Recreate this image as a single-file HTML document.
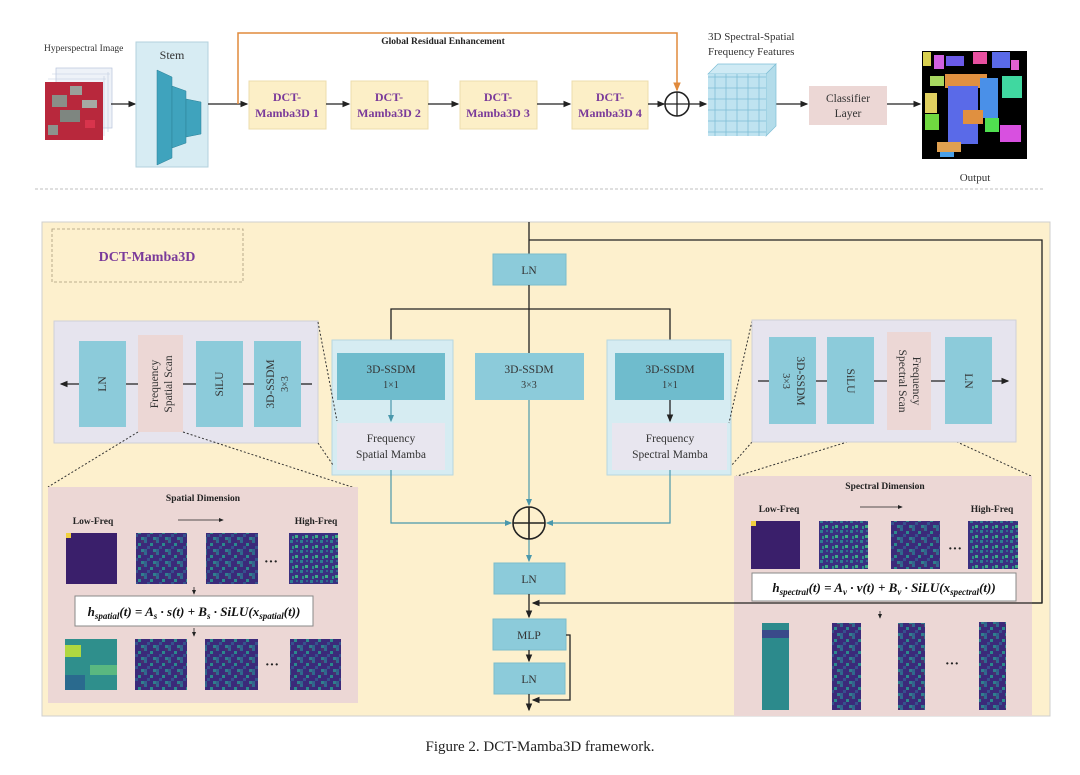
<!DOCTYPE html>
<html><head><meta charset="utf-8"><style>
html,body{margin:0;padding:0;background:#fff;}
svg{display:block;font-family:"Liberation Serif",serif;}
</style></head><body>
<svg width="1080" height="775" viewBox="0 0 1080 775" xmlns="http://www.w3.org/2000/svg">
<defs>
<marker id="ah" markerWidth="6" markerHeight="6" refX="5" refY="3" orient="auto"><path d="M0,0.5 L6,3 L0,5.5z" fill="#222"/></marker>
<marker id="aht" markerWidth="6" markerHeight="6" refX="5" refY="3" orient="auto"><path d="M0,0.5 L6,3 L0,5.5z" fill="#4a98ac"/></marker>
<marker id="aho" markerWidth="6" markerHeight="6" refX="5" refY="3" orient="auto"><path d="M0,0.5 L6,3 L0,5.5z" fill="#e08a3c"/></marker>
<pattern id="nz" width="12" height="12" patternUnits="userSpaceOnUse">
<rect width="12" height="12" fill="#3b2a7a"/>
<rect x="0" y="0" width="3" height="3" fill="#2f6a8e"/><rect x="6" y="3" width="3" height="3" fill="#2a8a8c"/>
<rect x="3" y="6" width="3" height="3" fill="#35528d"/><rect x="9" y="9" width="3" height="3" fill="#2f7f8e"/>
<rect x="9" y="0" width="3" height="3" fill="#46306f"/><rect x="0" y="9" width="3" height="3" fill="#33618c"/>
</pattern>
<pattern id="nz2" width="10" height="10" patternUnits="userSpaceOnUse">
<rect width="10" height="10" fill="#3a2f80"/>
<rect x="0" y="0" width="3" height="3" fill="#2c7f8e"/><rect x="5" y="5" width="3" height="3" fill="#3dae86"/>
<rect x="6" y="0" width="2" height="2" fill="#31688e"/><rect x="2" y="6" width="2" height="3" fill="#2a8d8a"/>
</pattern>
<pattern id="grid" width="11" height="11" patternUnits="userSpaceOnUse"><rect width="11" height="11" fill="#bfe3f0" stroke="#7fbfd6" stroke-width="0.8"/></pattern>
</defs>

<!-- TOP ROW -->
<text x="44" y="51" font-size="9.5" fill="#333">Hyperspectral Image</text>
<rect x="56" y="68" width="56" height="60" fill="#eef2f8" stroke="#b8c4dc" stroke-width="0.7"/>
<g stroke="#c0cbe0" stroke-width="0.6"><line x1="48" y1="79" x2="106" y2="79"/><line x1="52" y1="74" x2="110" y2="74"/><line x1="104" y1="76" x2="104" y2="136"/><line x1="108" y1="72" x2="108" y2="132"/></g>
<rect x="45" y="82" width="58" height="58" fill="#b8283c"/>
<rect x="52" y="95" width="15" height="12" fill="#8a8f88"/><rect x="70" y="86" width="12" height="9" fill="#9aa09a"/>
<rect x="60" y="110" width="20" height="12" fill="#7e8680"/><rect x="82" y="100" width="15" height="8" fill="#a5aaa4"/>
<rect x="48" y="125" width="10" height="10" fill="#8d938d"/><rect x="85" y="120" width="10" height="8" fill="#d8344c"/>
<line x1="111" y1="104" x2="135" y2="104" stroke="#222" stroke-width="1.3" marker-end="url(#ah)"/>
<rect x="136" y="42" width="72" height="125" fill="#d7ecf3" stroke="#b3d1dd"/>
<text x="172" y="59" font-size="12" text-anchor="middle" fill="#333">Stem</text>
<polygon points="157,70 172,77 172,158 157,165" fill="#3fa3bd" stroke="#2b7f96" stroke-width="0.5"/>
<polygon points="172,86 186,91 186,143 172,148" fill="#3fa3bd" stroke="#2b7f96" stroke-width="0.5"/>
<polygon points="186,99 201,102 201,134 186,137" fill="#3fa3bd" stroke="#2b7f96" stroke-width="0.5"/>
<line x1="208" y1="104" x2="247" y2="104" stroke="#222" stroke-width="1.3" marker-end="url(#ah)"/>
<polyline points="238,104 238,33 677,33 677,90" fill="none" stroke="#e08a3c" stroke-width="1.5" marker-end="url(#aho)"/>
<text x="443" y="44" font-size="9.5" font-weight="bold" text-anchor="middle" fill="#222">Global Residual Enhancement</text>
<g font-size="12" font-weight="bold" fill="#7a3a9a" text-anchor="middle">
<rect x="249" y="81" width="77" height="48" fill="#fcefc7" stroke="#ecdcae"/><text x="287" y="101">DCT-</text><text x="287" y="117">Mamba3D 1</text>
<rect x="351" y="81" width="77" height="48" fill="#fcefc7" stroke="#ecdcae"/><text x="389" y="101">DCT-</text><text x="389" y="117">Mamba3D 2</text>
<rect x="460" y="81" width="77" height="48" fill="#fcefc7" stroke="#ecdcae"/><text x="498" y="101">DCT-</text><text x="498" y="117">Mamba3D 3</text>
<rect x="572" y="81" width="76" height="48" fill="#fcefc7" stroke="#ecdcae"/><text x="610" y="101">DCT-</text><text x="610" y="117">Mamba3D 4</text>
</g>
<g stroke="#222" stroke-width="1.3">
<line x1="326" y1="104" x2="349" y2="104" marker-end="url(#ah)"/>
<line x1="428" y1="104" x2="458" y2="104" marker-end="url(#ah)"/>
<line x1="537" y1="104" x2="570" y2="104" marker-end="url(#ah)"/>
<line x1="648" y1="104" x2="664" y2="104" marker-end="url(#ah)"/>
<circle cx="677" cy="104" r="12" fill="none" stroke-width="1.6"/>
<line x1="665" y1="104" x2="689" y2="104"/><line x1="677" y1="92" x2="677" y2="116"/>
<line x1="689" y1="104" x2="706" y2="104" marker-end="url(#ah)"/>
<line x1="776" y1="104" x2="807" y2="104" marker-end="url(#ah)"/>
<line x1="887" y1="104" x2="920" y2="104" marker-end="url(#ah)"/>
</g>
<text x="708" y="40" font-size="11" fill="#333">3D Spectral-Spatial</text>
<text x="708" y="55" font-size="11" fill="#333">Frequency Features</text>
<polygon points="708,74 718,64 776,64 766,74" fill="#cfeaf4" stroke="#7fbfd6" stroke-width="0.7"/>
<polygon points="766,74 776,64 776,126 766,136" fill="#b3dcea" stroke="#7fbfd6" stroke-width="0.7"/>
<rect x="708" y="74" width="58" height="62" fill="url(#grid)"/>
<rect x="809" y="86" width="78" height="39" fill="#ecd7d5"/>
<text x="848" y="102" font-size="11.5" text-anchor="middle" fill="#333">Classifier</text>
<text x="848" y="117" font-size="11.5" text-anchor="middle" fill="#333">Layer</text>
<rect x="922" y="51" width="105" height="108" fill="#000"/>
<rect x="923" y="52" width="8" height="14" fill="#d8d050"/><rect x="934" y="55" width="10" height="14" fill="#d060e0"/>
<rect x="946" y="56" width="18" height="10" fill="#6a5ae8"/><rect x="973" y="52" width="14" height="12" fill="#e850a0"/>
<rect x="992" y="52" width="18" height="16" fill="#5a6ae8"/><rect x="1011" y="60" width="8" height="10" fill="#e060d0"/>
<rect x="930" y="76" width="14" height="10" fill="#a8d860"/><rect x="945" y="74" width="42" height="14" fill="#e09040"/>
<rect x="980" y="78" width="18" height="40" fill="#4a90e8"/><rect x="1002" y="76" width="20" height="22" fill="#40d8a0"/>
<rect x="948" y="86" width="30" height="58" fill="#5a6ae8"/><rect x="925" y="93" width="12" height="20" fill="#e0d060"/>
<rect x="925" y="114" width="14" height="16" fill="#70d840"/><rect x="963" y="110" width="20" height="14" fill="#e09040"/>
<rect x="985" y="118" width="14" height="14" fill="#50e050"/><rect x="1000" y="125" width="21" height="17" fill="#d850e0"/>
<rect x="937" y="142" width="24" height="10" fill="#e0a050"/><rect x="940" y="152" width="14" height="5" fill="#4aa0e8"/>
<text x="975" y="181" font-size="11" text-anchor="middle" fill="#333">Output</text>
<line x1="35" y1="189" x2="1045" y2="189" stroke="#aaa" stroke-width="0.8" stroke-dasharray="3,2"/>

<!-- BOTTOM PANEL -->
<rect x="42" y="222" width="1008" height="494" fill="#fdf0cd" stroke="#cfcfcf"/>
<rect x="52" y="229" width="191" height="53" fill="none" stroke="#a89a7a" stroke-width="0.8" stroke-dasharray="3,2"/>
<text x="147" y="261" font-size="14" font-weight="bold" text-anchor="middle" fill="#7a3a9a">DCT-Mamba3D</text>

<line x1="529" y1="222" x2="529" y2="254" stroke="#222" stroke-width="1.3"/>
<polyline points="529,240 1042,240 1042,603 533,603" fill="none" stroke="#222" stroke-width="1.3" marker-end="url(#ah)"/>
<rect x="493" y="254" width="73" height="31" fill="#8ccbda" stroke="#7bbccc"/>
<text x="529" y="274" font-size="11.5" text-anchor="middle" fill="#333">LN</text>
<line x1="529" y1="285" x2="529" y2="353" stroke="#222" stroke-width="1.3"/>
<polyline points="391,352 391,309 670,309 670,352" fill="none" stroke="#222" stroke-width="1.3"/>
<line x1="391" y1="340" x2="391" y2="351" stroke="#222" stroke-width="1.3" marker-end="url(#ah)"/>
<line x1="670" y1="340" x2="670" y2="351" stroke="#222" stroke-width="1.3" marker-end="url(#ah)"/>

<rect x="332" y="340" width="121" height="135" fill="#d6ecf2" stroke="#b7d6e0"/>
<rect x="337" y="353" width="108" height="47" fill="#6fbccd"/>
<text x="391" y="373" font-size="11.5" text-anchor="middle" fill="#333">3D-SSDM</text><text x="391" y="388" font-size="10" text-anchor="middle" fill="#333">1×1</text>
<line x1="391" y1="400" x2="391" y2="421" stroke="#4a98ac" stroke-width="1.2" marker-end="url(#aht)"/>
<rect x="337" y="423" width="108" height="47" fill="#e8e6ef"/>
<text x="391" y="442" font-size="11.5" text-anchor="middle" fill="#333">Frequency</text><text x="391" y="458" font-size="11.5" text-anchor="middle" fill="#333">Spatial Mamba</text>

<rect x="475" y="353" width="109" height="47" fill="#8ccbda"/>
<text x="529" y="373" font-size="11.5" text-anchor="middle" fill="#333">3D-SSDM</text><text x="529" y="388" font-size="10" text-anchor="middle" fill="#333">3×3</text>

<rect x="607" y="340" width="124" height="135" fill="#d6ecf2" stroke="#b7d6e0"/>
<rect x="615" y="353" width="109" height="47" fill="#6fbccd"/>
<text x="670" y="373" font-size="11.5" text-anchor="middle" fill="#333">3D-SSDM</text><text x="670" y="388" font-size="10" text-anchor="middle" fill="#333">1×1</text>
<line x1="670" y1="400" x2="670" y2="421" stroke="#222" stroke-width="1.3" marker-end="url(#ah)"/>
<rect x="612" y="423" width="115" height="47" fill="#e8e6ef"/>
<text x="670" y="442" font-size="11.5" text-anchor="middle" fill="#333">Frequency</text><text x="670" y="458" font-size="11.5" text-anchor="middle" fill="#333">Spectral Mamba</text>

<g stroke="#4a98ac" stroke-width="1.2" fill="none">
<polyline points="391,470 391,523 511,523" marker-end="url(#aht)"/>
<polyline points="670,470 670,523 547,523" marker-end="url(#aht)"/>
<line x1="529" y1="400" x2="529" y2="505" marker-end="url(#aht)"/>
<line x1="529" y1="539" x2="529" y2="561" marker-end="url(#aht)"/>
</g>
<g stroke="#222" stroke-width="1.6" fill="none"><circle cx="529" cy="523" r="16"/><line x1="513" y1="523" x2="545" y2="523"/><line x1="529" y1="507" x2="529" y2="539"/></g>

<rect x="494" y="563" width="71" height="31" fill="#8ccbda" stroke="#7bbccc"/><text x="529" y="583" font-size="11.5" text-anchor="middle" fill="#333">LN</text>
<line x1="529" y1="594" x2="529" y2="617" stroke="#222" stroke-width="1.3" marker-end="url(#ah)"/>
<rect x="493" y="619" width="73" height="31" fill="#8ccbda" stroke="#7bbccc"/><text x="529" y="639" font-size="11.5" text-anchor="middle" fill="#333">MLP</text>
<line x1="529" y1="650" x2="529" y2="661" stroke="#222" stroke-width="1.3" marker-end="url(#ah)"/>
<rect x="494" y="663" width="71" height="31" fill="#8ccbda" stroke="#7bbccc"/><text x="529" y="683" font-size="11.5" text-anchor="middle" fill="#333">LN</text>
<polyline points="566,635 570,635 570,700 533,700" fill="none" stroke="#222" stroke-width="1.3" marker-end="url(#ah)"/>
<line x1="529" y1="694" x2="529" y2="710" stroke="#222" stroke-width="1.3" marker-end="url(#ah)"/>

<!-- left expanded -->
<rect x="54" y="321" width="264" height="122" fill="#e6e4ee" stroke="#cfcfd8"/>
<line x1="301" y1="384" x2="312" y2="384" stroke="#222" stroke-width="1.3"/>
<line x1="79" y1="384" x2="61" y2="384" stroke="#222" stroke-width="1.3" marker-end="url(#ah)"/>
<line x1="126" y1="384" x2="254" y2="384" stroke="#222" stroke-width="1.3"/>
<rect x="79" y="341" width="47" height="86" fill="#8ccbda"/>
<rect x="138" y="335" width="45" height="97" fill="#ecd7d5"/>
<rect x="196" y="341" width="47" height="86" fill="#8ccbda"/>
<rect x="254" y="341" width="47" height="86" fill="#8ccbda"/>
<g font-size="11.5" fill="#333" text-anchor="middle">
<text transform="translate(106,384) rotate(-90)">LN</text>
<text transform="translate(158,384) rotate(-90)">Frequency</text>
<text transform="translate(172,384) rotate(-90)">Spatial Scan</text>
<text transform="translate(223,384) rotate(-90)">SiLU</text>
<text transform="translate(274,384) rotate(-90)">3D-SSDM</text>
<text transform="translate(288,384) rotate(-90)" font-size="10">3×3</text>
</g>
<g stroke="#333" stroke-width="1" stroke-dasharray="2,2" fill="none">
<line x1="318" y1="322" x2="337" y2="421"/><line x1="318" y1="443" x2="333" y2="465"/>
<line x1="138" y1="432" x2="48" y2="487"/><line x1="183" y1="432" x2="358" y2="489"/>
<line x1="752" y1="321" x2="729" y2="423"/><line x1="752" y1="442" x2="731" y2="466"/>
<line x1="886" y1="430" x2="734" y2="477"/><line x1="931" y1="430" x2="1031" y2="476"/>
</g>

<!-- spatial dim panel -->
<rect x="48" y="487" width="310" height="216" fill="#ecd7d5"/>
<g font-weight="bold" fill="#222" text-anchor="middle" font-size="9.5">
<text x="203" y="501">Spatial Dimension</text><text x="93" y="524">Low-Freq</text><text x="316" y="524">High-Freq</text>
</g>
<line x1="178" y1="520" x2="223" y2="520" stroke="#222" stroke-width="0.8" marker-end="url(#ah)"/>
<rect x="66" y="533" width="51" height="51" fill="#3a1f6b"/><rect x="66" y="533" width="5" height="5" fill="#f0d040"/>
<rect x="136" y="533" width="51" height="51" fill="url(#nz)"/>
<rect x="206" y="533" width="52" height="51" fill="url(#nz)"/>
<rect x="289" y="533" width="49" height="51" fill="url(#nz2)"/>
<text x="271" y="566" font-size="14" font-weight="bold" text-anchor="middle" fill="#222">···</text>
<line x1="194" y1="587" x2="194" y2="594" stroke="#222" stroke-width="0.8" marker-end="url(#ah)"/>
<rect x="75" y="596" width="238" height="30" fill="#fff" stroke="#888"/>
<text x="194" y="616" font-size="13" font-weight="bold" font-style="italic" text-anchor="middle" fill="#111">h<tspan font-size="9" dy="3">spatial</tspan><tspan dy="-3">(t) = A</tspan><tspan font-size="9" dy="3">s</tspan><tspan dy="-3"> · s(t) + B</tspan><tspan font-size="9" dy="3">s</tspan><tspan dy="-3"> · SiLU(x</tspan><tspan font-size="9" dy="3">spatial</tspan><tspan dy="-3">(t))</tspan></text>
<line x1="194" y1="628" x2="194" y2="636" stroke="#222" stroke-width="0.8" marker-end="url(#ah)"/>
<rect x="65" y="639" width="52" height="51" fill="#2f8f8c"/><rect x="65" y="645" width="16" height="12" fill="#b0d840"/><rect x="90" y="665" width="27" height="10" fill="#5ab880"/><rect x="65" y="675" width="20" height="15" fill="#2a6a8e"/>
<rect x="135" y="639" width="52" height="51" fill="url(#nz)"/>
<rect x="205" y="639" width="53" height="51" fill="url(#nz)"/>
<rect x="290" y="639" width="51" height="51" fill="url(#nz)"/>
<text x="272" y="669" font-size="14" font-weight="bold" text-anchor="middle" fill="#222">···</text>

<!-- right expanded -->
<rect x="752" y="320" width="264" height="122" fill="#e6e4ee" stroke="#cfcfd8"/>
<line x1="758" y1="381" x2="992" y2="381" stroke="#222" stroke-width="1.3"/>
<line x1="992" y1="381" x2="1008" y2="381" stroke="#222" stroke-width="1.3" marker-end="url(#ah)"/>
<rect x="769" y="337" width="47" height="87" fill="#8ccbda"/>
<rect x="827" y="337" width="47" height="87" fill="#8ccbda"/>
<rect x="887" y="332" width="44" height="98" fill="#ecd7d5"/>
<rect x="945" y="337" width="47" height="87" fill="#8ccbda"/>
<g font-size="11.5" fill="#333" text-anchor="middle">
<text transform="translate(797,381) rotate(90)">3D-SSDM</text>
<text transform="translate(783,381) rotate(90)" font-size="10">3×3</text>
<text transform="translate(847,381) rotate(90)">SiLU</text>
<text transform="translate(913,381) rotate(90)">Frequency</text>
<text transform="translate(899,381) rotate(90)">Spectral Scan</text>
<text transform="translate(965,381) rotate(90)">LN</text>
</g>

<!-- spectral panel -->
<rect x="734" y="476" width="298" height="240" fill="#ecd7d5"/>
<g font-weight="bold" fill="#222" text-anchor="middle" font-size="9.5">
<text x="885" y="489">Spectral Dimension</text><text x="779" y="512">Low-Freq</text><text x="992" y="512">High-Freq</text>
</g>
<line x1="860" y1="507" x2="902" y2="507" stroke="#222" stroke-width="0.8" marker-end="url(#ah)"/>
<rect x="751" y="521" width="49" height="48" fill="#3a1f6b"/><rect x="751" y="521" width="5" height="5" fill="#f0d040"/>
<rect x="819" y="521" width="49" height="48" fill="url(#nz2)"/>
<rect x="891" y="521" width="49" height="48" fill="url(#nz)"/>
<rect x="968" y="521" width="50" height="48" fill="url(#nz2)"/>
<text x="955" y="553" font-size="14" font-weight="bold" text-anchor="middle" fill="#222">···</text>
<rect x="752" y="573" width="264" height="28" fill="#fff" stroke="#888"/>
<text x="884" y="592" font-size="13" font-weight="bold" font-style="italic" text-anchor="middle" fill="#111">h<tspan font-size="9" dy="3">spectral</tspan><tspan dy="-3">(t) = A</tspan><tspan font-size="9" dy="3">v</tspan><tspan dy="-3"> · v(t) + B</tspan><tspan font-size="9" dy="3">v</tspan><tspan dy="-3"> · SiLU(x</tspan><tspan font-size="9" dy="3">spectral</tspan><tspan dy="-3">(t))</tspan></text>
<line x1="880" y1="611" x2="880" y2="618" stroke="#222" stroke-width="0.8" marker-end="url(#ah)"/>
<rect x="762" y="623" width="27" height="87" fill="#2c8a8c"/><rect x="762" y="630" width="27" height="8" fill="#3a4a8a"/>
<rect x="832" y="623" width="29" height="87" fill="url(#nz)"/>
<rect x="898" y="623" width="27" height="87" fill="url(#nz)"/>
<rect x="979" y="622" width="27" height="88" fill="url(#nz)"/>
<text x="952" y="668" font-size="14" font-weight="bold" text-anchor="middle" fill="#222">···</text>
<line x1="1042" y1="560" x2="1042" y2="603" stroke="#222" stroke-width="1.3"/>
<line x1="1042" y1="603" x2="734" y2="603" stroke="#222" stroke-width="1.3"/>

<text x="540" y="751" font-size="15" text-anchor="middle" fill="#222">Figure 2. DCT-Mamba3D framework.</text>
</svg>
</body></html>
